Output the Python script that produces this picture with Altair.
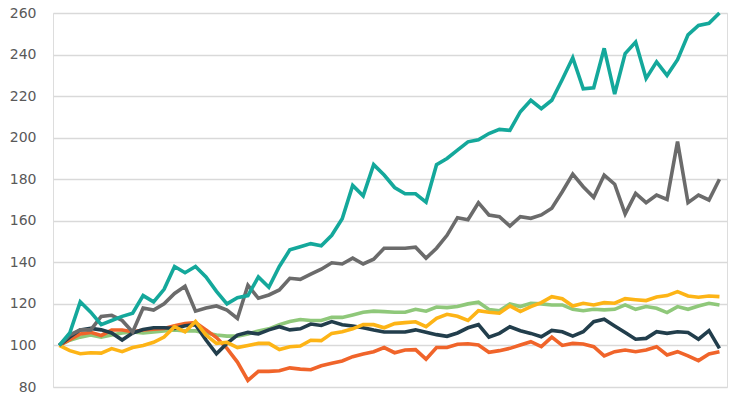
import altair as alt
import pandas as pd

teal = [100, 106, 121, 116, 110, 112, 114, 115.5, 124, 121, 127, 138, 135, 138, 133, 126, 120, 123, 124, 133,
        128, 138, 146, 147.5, 149, 148, 153, 161, 177, 172, 187, 182, 176, 173, 173, 169, 187, 190, 194, 198,
        199, 202, 204, 203.5, 212.5, 218, 214, 218, 228, 238.5, 223.5, 224, 243, 221, 240.5, 246, 228.5, 236.5,
        230, 237.5, 249.5, 254, 255, 260]
gray = [100, 105, 107.5, 107.5, 114, 114.5, 112, 106.5, 118, 117, 120, 125, 128.5, 116.5, 118, 119, 117, 113,
        129, 122.7, 124.3, 126.7, 132.3, 131.8, 134.3, 136.7, 139.8, 139.2, 142, 139.2, 141.5, 146.8, 146.8,
        146.8, 147.3, 142, 146.8, 153, 161.5, 160.5, 168.7, 162.8, 162, 157.5, 162, 161.2, 162.8, 166, 174,
        182.5, 176.4, 171.3, 182, 177.6, 163.3, 173.2, 168.7, 172.4, 170.3, 198.1, 168.7, 172.4, 170, 180]
yellow = [100, 97.5, 96, 96.5, 96.3, 98.5, 97, 99, 100, 101.5, 104, 109, 106.5, 111.5, 105, 101, 101.5, 99, 100,
          101, 101, 98, 99.4, 99.7, 102.5, 102.3, 105.8, 106.6, 108, 110, 110, 108.5, 110.5, 111, 111.4, 109,
          113, 115, 114, 112, 116.7, 116, 115.5, 119, 116.3, 118.7, 120.6, 123.5, 122.5, 119, 120.3, 119.5,
          120.6, 120.3, 122.5, 122, 121.6, 123.3, 124, 125.9, 123.8, 123.2, 123.8, 123.5]
green = [100, 102.5, 104, 105, 104, 105, 106, 106.5, 106, 106.5, 107, 107.5, 107, 107, 106, 105, 104.5, 104.5,
         105.5, 107, 108, 110, 111.5, 112.5, 112, 112, 113.5, 113.5, 114.7, 116, 116.5, 116.3, 116, 116, 117.4,
         116.5, 118.5, 118.2, 118.7, 120, 120.8, 117.3, 116.7, 120, 118.7, 120.3, 120, 119.5, 119.5, 117.4,
         116.7, 117.4, 117.1, 117.4, 119.5, 117.4, 118.7, 117.9, 115.8, 118.7, 117.4, 119, 120.3, 119.5]
navy = [100, 104, 107.5, 108.2, 107.5, 106, 102.6, 106, 107.7, 108.5, 108.5, 108.2, 109.5, 110, 102.6, 96, 101,
        105, 106.3, 105.5, 107.5, 109, 107.5, 108, 110.3, 109.6, 111.5, 110, 109.4, 108.5, 107.4, 106.5, 106.5,
        106.5, 107.5, 106.3, 105.2, 104.4, 106, 108.5, 110, 104, 105.8, 109, 107.1, 105.8, 104.2, 107.2, 106.6,
        104.5, 106.6, 111.4, 112.6, 109.4, 106.2, 103, 103.4, 106.6, 105.8, 106.6, 106.2, 103, 107.1, 98.6]
orange = [100, 102.8, 105.5, 106.3, 104.8, 107.4, 107.4, 106.6, 107.4, 107.8, 108.2, 109.5, 110.6, 111, 107.5,
          103.8, 98.6, 92, 83.2, 87.5, 87.5, 87.8, 89.2, 88.6, 88.3, 90.2, 91.4, 92.5, 94.6, 95.9, 97, 99, 96.5,
          97.8, 98, 93.4, 99, 99, 100.6, 100.8, 100.2, 96.7, 97.5, 98.6, 100.2, 101.8, 99.4, 104, 100, 101,
          100.7, 99.4, 95, 97, 97.8, 97, 97.8, 99.4, 95.4, 97, 95, 92.7, 95.9, 97]

series_names = ["Green", "Orange", "Navy", "Yellow", "Gray", "Teal"]
series_values = [green, orange, navy, yellow, gray, teal]
series_colors = ["#8fc87a", "#f0642a", "#223e4c", "#fdb416", "#6b6b6b", "#14a89b"]
y_ticks = [80, 100, 120, 140, 160, 180, 200, 220, 240, 260]

rows = []
for order, (name, vals) in enumerate(zip(series_names, series_values)):
    for i, v in enumerate(vals):
        rows.append({"series": name, "order": order, "t": i, "value": v})
df = pd.DataFrame(rows)

chart = alt.Chart(df).mark_line(strokeWidth=3.6, strokeJoin="miter", strokeMiterLimit=3).encode(
    x=alt.X("t:Q", axis=None, scale=alt.Scale(domain=[-0.6, 63.72], nice=False, zero=False)),
    y=alt.Y("value:Q",
            scale=alt.Scale(domain=[80, 260], nice=False, zero=False),
            axis=alt.Axis(values=y_ticks, title=None, domain=False, ticks=False,
                          labelPadding=17, labelFont="DejaVu Sans", labelFontSize=14,
                          labelColor="#595959", gridColor="#d9d9d9", gridWidth=1.6)),
    color=alt.Color("series:N", legend=None,
                    scale=alt.Scale(domain=series_names, range=series_colors)),
    order=alt.Order("order:Q"),
    detail="series:N",
).properties(
    width=674, height=374,
    padding={"left": 53, "top": 13, "right": 3, "bottom": 11},
    autosize=alt.AutoSizeParams(type="none"),
).configure_view(stroke=None).configure(background="white")

chart.save("out.html", embed_options={"renderer": "svg", "actions": False})
